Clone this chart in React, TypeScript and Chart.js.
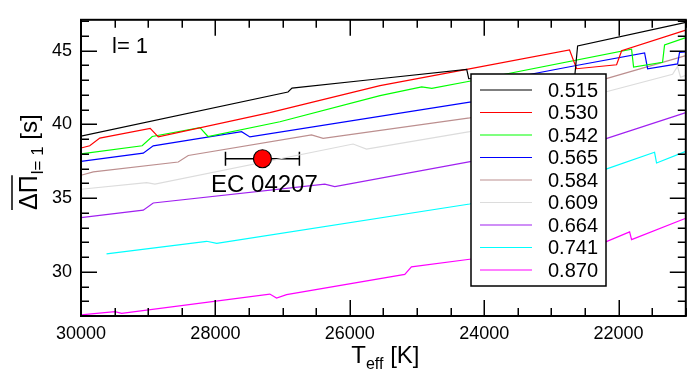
import React, { useEffect, useRef } from "react";
import { Chart, registerables } from "chart.js";

Chart.register(...registerables);

const FAM = '"Liberation Sans", Arial, Helvetica, sans-serif';

// ---- data ----
const masses = ["0.515", "0.530", "0.542", "0.565", "0.584", "0.609", "0.664", "0.741", "0.870"];
const colors = ["#000000", "#ff0000", "#00ff00", "#0000ff", "#bc8f8f", "#dcdcdc", "#a020f0", "#00ffff", "#ff00ff"];

const teff515 = [30000, 26920, 26860, 25700, 24260, 24230, 22650, 22610, 21000];
const dp515 = [39.2, 42.2, 42.47, 43.03, 43.73, 43.1, 43.4, 45.33, 46.93];

const teff530 = [30000, 29870, 29720, 28970, 28850, 27190, 25550, 24260, 22730, 22625, 22030, 21955, 21000];
const dp530 = [38.4, 38.55, 39.07, 39.73, 39.15, 40.8, 42.63, 43.73, 45.05, 43.78, 44.05, 45.0, 46.4];

const teff542 = [30000, 29090, 28940, 28230, 28110, 27040, 25550, 24930, 24780, 24220, 21807, 21777, 21346, 21316, 21000];
const dp542 = [38.0, 38.55, 39.18, 39.78, 39.18, 40.18, 41.95, 42.55, 42.45, 42.93, 45.1, 43.89, 44.22, 45.4, 45.89];

const teff565 = [30000, 29074, 28925, 27610, 27487, 24216, 23590, 23521, 22630, 21613, 21568, 21122, 21093, 21000];
const dp565 = [37.49, 38.05, 38.55, 39.51, 39.15, 41.51, 41.67, 43.22, 44.0, 44.85, 43.78, 44.11, 44.89, 44.93];

const teff584 = [30000, 29817, 28553, 28404, 26570, 26397, 24216, 23175, 22183, 21000];
const dp584 = [36.55, 36.78, 37.45, 37.89, 39.29, 39.05, 40.45, 41.3, 43.11, 44.67];

const teff609 = [30000, 29023, 28900, 25951, 25752, 24216, 22183, 21197, 21123, 21078, 21000];
const dp609 = [35.6, 36.05, 35.95, 38.67, 38.33, 39.51, 42.22, 43.4, 43.93, 43.2, 43.33];

const teff664 = [30000, 29074, 28925, 26372, 26223, 24067, 22208, 21000];
const dp664 = [33.67, 34.18, 34.67, 35.95, 35.78, 37.6, 39.0, 40.8];

const teff741 = [29620, 28130, 27980, 24216, 22208, 21465, 21435, 21000];
const dp741 = [31.22, 32.07, 31.93, 34.6, 36.93, 38.11, 37.38, 38.17];

const teff870 = [30000, 29494, 29395, 27190, 27090, 26941, 25182, 25083, 24216, 22208, 21836, 21807, 21000];
const dp870 = [27.07, 27.29, 27.18, 28.49, 28.22, 28.45, 29.82, 30.33, 30.85, 32.0, 32.71, 32.18, 33.63];

const teffSeries = [teff515, teff530, teff542, teff565, teff584, teff609, teff664, teff741, teff870];
const dpSeries = [dp515, dp530, dp542, dp565, dp584, dp609, dp664, dp741, dp870];

const xTicks = [30000, 28000, 26000, 24000, 22000];
const yTicks = [30, 35, 40, 45];
const X_MIN = 21000;
const X_MAX = 30000;
const Y_MIN = 27;
const Y_MAX = 47.1;
const X_MINOR = 500;
const Y_MINOR = 1;

const starName = "EC 04207";
const starTeff = 27300;
const starTeffErr = 550;
const starDP = 37.67;

const overlay = {
  id: "overlay",
  beforeDatasetsDraw(chart: any) {
    const { ctx, scales } = chart;
    const x = scales.x, y = scales.y;
    const x1 = x.getPixelForValue(starTeff - starTeffErr);
    const x2 = x.getPixelForValue(starTeff + starTeffErr);
    const yp = y.getPixelForValue(starDP);
    ctx.save();
    ctx.strokeStyle = "#000";
    ctx.lineWidth = 1.5;
    ctx.beginPath();
    ctx.moveTo(x1, yp); ctx.lineTo(x2, yp);
    ctx.moveTo(x1, yp - 7); ctx.lineTo(x1, yp + 7);
    ctx.moveTo(x2, yp - 7); ctx.lineTo(x2, yp + 7);
    ctx.stroke();
    ctx.restore();
  },
  afterDatasetsDraw(chart: any) {
    const { ctx, scales } = chart;
    const x = scales.x;
    ctx.save();
    // star label
    ctx.fillStyle = "#000";
    ctx.font = `24px ${FAM}`;
    ctx.textAlign = "center";
    ctx.textBaseline = "alphabetic";
    ctx.fillText(starName, x.getPixelForValue(starTeff) + 2, 191.5);
    // l = 1 label
    ctx.font = `22px ${FAM}`;
    ctx.textAlign = "left";
    ctx.fillText("l= 1", 112, 53);

    // legend box
    const bx = 471, by = 74, bw = 135, bh = 212;
    ctx.fillStyle = "#fff";
    ctx.fillRect(bx, by, bw, bh);
    ctx.strokeStyle = "#000";
    ctx.lineWidth = 1.5;
    ctx.strokeRect(bx, by, bw, bh);
    const ds = chart.data.datasets.filter((d: any) => !d.isStar);
    ds.forEach((d: any, i: number) => {
      const yy = 90 + i * 22.5;
      ctx.strokeStyle = d.borderColor;
      ctx.lineWidth = 1.2;
      ctx.beginPath();
      ctx.moveTo(480, yy);
      ctx.lineTo(532, yy);
      ctx.stroke();
      ctx.fillStyle = "#000";
      ctx.font = `20px ${FAM}`;
      ctx.textAlign = "left";
      ctx.textBaseline = "middle";
      ctx.fillText(d.label, 548, yy + 1);
    });
    ctx.restore();
  },
  afterDraw(chart: any) {
    const { ctx, chartArea, scales } = chart;
    const x = scales.x, y = scales.y;
    const { left, right, top, bottom } = chartArea;
    ctx.save();
    ctx.strokeStyle = "#000";
    // ticks
    ctx.lineWidth = 1.5;
    ctx.beginPath();
    for (let v = X_MIN; v <= X_MAX; v += X_MINOR) {
      const px = Math.round(x.getPixelForValue(v)) + 0.25;
      const len = xTicks.includes(v) ? 16 : 8;
      ctx.moveTo(px, bottom); ctx.lineTo(px, bottom - len);
      ctx.moveTo(px, top); ctx.lineTo(px, top + len);
    }
    for (let v = Y_MIN; v <= Y_MAX + 1e-9; v += Y_MINOR) {
      const py = Math.round(y.getPixelForValue(v)) + 0.25;
      const len = yTicks.includes(v) ? 16 : 8;
      ctx.moveTo(left, py); ctx.lineTo(left + len, py);
      ctx.moveTo(right, py); ctx.lineTo(right - len, py);
    }
    ctx.stroke();
    // frame
    ctx.lineWidth = 2;
    ctx.strokeRect(left, top, right - left, bottom - top);

    // x title
    ctx.fillStyle = "#000";
    ctx.textAlign = "left";
    ctx.textBaseline = "alphabetic";
    ctx.font = `24px ${FAM}`;
    const wT = ctx.measureText("T").width;
    ctx.font = `16px ${FAM}`;
    const wE = ctx.measureText("eff").width;
    ctx.font = `24px ${FAM}`;
    const wK = ctx.measureText(" [K]").width;
    const total = wT + wE + wK;
    const sx = (left + right) / 2 + 2 - total / 2;
    const base = 363;
    ctx.fillText("T", sx, base);
    ctx.font = `16px ${FAM}`;
    ctx.fillText("eff", sx + wT, base + 6);
    ctx.font = `24px ${FAM}`;
    ctx.fillText(" [K]", sx + wT + wE, base);

    // y title
    ctx.translate(37, 210);
    ctx.rotate(-Math.PI / 2);
    ctx.font = `25px ${FAM}`;
    const w1 = ctx.measureText("ΔΠ").width;
    ctx.fillText("ΔΠ", 0, 0);
    ctx.lineWidth = 1.5;
    ctx.beginPath();
    ctx.moveTo(0, -25);
    ctx.lineTo(w1, -25);
    ctx.stroke();
    ctx.font = `17px ${FAM}`;
    ctx.fillText("l= 1", w1 + 1, 6);
    const w2 = ctx.measureText("l= 1").width;
    ctx.font = `24px ${FAM}`;
    ctx.fillText(" [s]", w1 + 1 + w2, 0);
    ctx.restore();
  },
};

export default function App() {
  const ref = useRef<HTMLCanvasElement | null>(null);
  useEffect(() => {
    if (!ref.current) return;
    const lineSets = masses.map((m, i) => ({
      type: "line" as const,
      label: m,
      data: teffSeries[i].map((t, j) => ({ x: t, y: dpSeries[i][j] })),
      borderColor: colors[i],
      backgroundColor: colors[i],
      borderWidth: 1.2,
      pointRadius: 0,
      tension: 0,
      fill: false,
    }));
    const starSet: any = {
      type: "scatter" as const,
      label: starName,
      isStar: true,
      data: [{ x: starTeff, y: starDP }],
      pointRadius: 9,
      pointBackgroundColor: "#ff0000",
      pointBorderColor: "#000",
      pointBorderWidth: 1.2,
      showLine: false,
    };
    const chart = new Chart(ref.current, {
      type: "line",
      data: { datasets: [starSet, ...lineSets] as any },
      options: {
        animation: false,
        responsive: false,
        devicePixelRatio: 1,
        layout: { padding: { top: 13, right: 10, left: 0, bottom: 0 } },
        plugins: { legend: { display: false }, tooltip: { enabled: false } },
        scales: {
          x: {
            type: "linear",
            reverse: true,
            min: X_MIN,
            max: X_MAX,
            grid: { display: false, drawTicks: false },
            border: { display: false },
            ticks: {
              color: "#000",
              font: { size: 18, family: FAM },
              padding: 7,
              maxRotation: 0,
              autoSkip: false,
              callback: (v: any) => String(v),
            },
            afterBuildTicks: (s: any) => {
              s.ticks = xTicks.map((v) => ({ value: v }));
            },
            afterFit: (s: any) => {
              s.height = 58;
            },
          },
          y: {
            type: "linear",
            min: Y_MIN,
            max: Y_MAX,
            grid: { display: false, drawTicks: false },
            border: { display: false },
            ticks: {
              color: "#000",
              font: { size: 18, family: FAM },
              padding: 9,
              autoSkip: false,
              callback: (v: any) => String(v),
            },
            afterBuildTicks: (s: any) => {
              s.ticks = yTicks.map((v) => ({ value: v }));
            },
            afterFit: (s: any) => {
              s.width = 81;
            },
          },
        },
      } as any,
      plugins: [overlay],
    });
    return () => chart.destroy();
  }, []);
  return (
    <div style={{ position: "absolute", left: 0, top: 0, width: 696, height: 374, background: "#fff" }}>
      <canvas ref={ref} width={696} height={374} style={{ width: 696, height: 374, display: "block" }} />
    </div>
  );
}
